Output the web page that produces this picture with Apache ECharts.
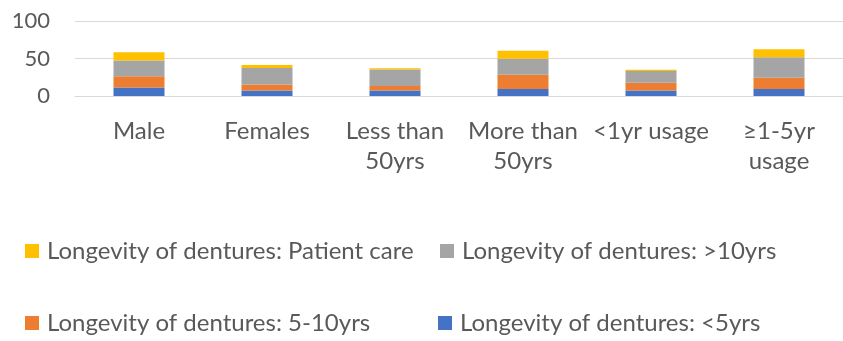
<!DOCTYPE html>
<html>
<head>
<meta charset="utf-8">
<script src="https://cdn.jsdelivr.net/npm/echarts@6/dist/echarts.min.js"></script>
<style>
  html, body { margin: 0; padding: 0; background: #fff; }
  #chart { width: 843px; height: 341px; }
</style>
</head>
<body>
<div id="chart"></div>
<script>
// Groups along the x axis
const categories = ['Male', 'Females', 'Less than\n50yrs', 'More than\n50yrs', '<1yr usage', '≥1-5yr\nusage'];

// Stacked segments, bottom to top
const under5yrs   = [11.5, 7.5, 7.5, 9.3, 7.5, 9.3];
const fiveTo10yrs = [15, 8, 5.8, 19, 10.2, 15];
const over10yrs   = [21, 21.7, 22, 21.3, 15.5, 27.4];
const patientCare = [11, 4, 1.8, 10.6, 1.8, 10.6];

const yTicks = [0, 50, 100];

const names = {
  a: 'Longevity of dentures: <5yrs',
  b: 'Longevity of dentures: 5-10yrs',
  c: 'Longevity of dentures: >10yrs',
  d: 'Longevity of dentures: Patient care'
};

const FONT = 'Lato';
const TEXT = '#595959';

function legendAt(name, left, top) {
  return {
    data: [name], left: left, top: top, orient: 'horizontal',
    itemWidth: 14, itemHeight: 14, itemGap: 0,
    icon: 'rect',
    textStyle: { fontFamily: FONT, fontSize: 24, color: TEXT, padding: [0, 0, 0, 3] }
  };
}

const chart = echarts.init(document.getElementById('chart'));
chart.setOption({
  animation: false,
  color: ['#4472C4', '#ED7D31', '#A5A5A5', '#FFC000'],
  grid: { left: 75, top: 21, width: 777, height: 75, containLabel: false },
  legend: [
    legendAt(names.d, 20, 234),
    legendAt(names.c, 435, 234),
    legendAt(names.b, 20, 306),
    legendAt(names.a, 433, 306)
  ],
  xAxis: {
    type: 'category',
    data: categories,
    axisLine: { lineStyle: { color: '#d9d9d9', width: 1 } },
    axisTick: { show: false },
    axisLabel: {
      interval: 0, margin: 20, fontFamily: FONT, fontSize: 24, color: TEXT,
      lineHeight: 30, align: 'center'
    }
  },
  yAxis: {
    type: 'value',
    min: yTicks[0], max: yTicks[yTicks.length - 1], interval: 50,
    axisLine: { show: false },
    axisTick: { show: false },
    splitLine: { lineStyle: { color: '#d9d9d9', width: 1 } },
    axisLabel: { margin: 25, fontFamily: FONT, fontSize: 22, color: TEXT }
  },
  series: [
    { name: names.a, type: 'bar', stack: 't', data: under5yrs, barWidth: 51 },
    { name: names.b, type: 'bar', stack: 't', data: fiveTo10yrs, barWidth: 51 },
    { name: names.c, type: 'bar', stack: 't', data: over10yrs, barWidth: 51 },
    { name: names.d, type: 'bar', stack: 't', data: patientCare, barWidth: 51 }
  ]
});
</script>
</body>
</html>
